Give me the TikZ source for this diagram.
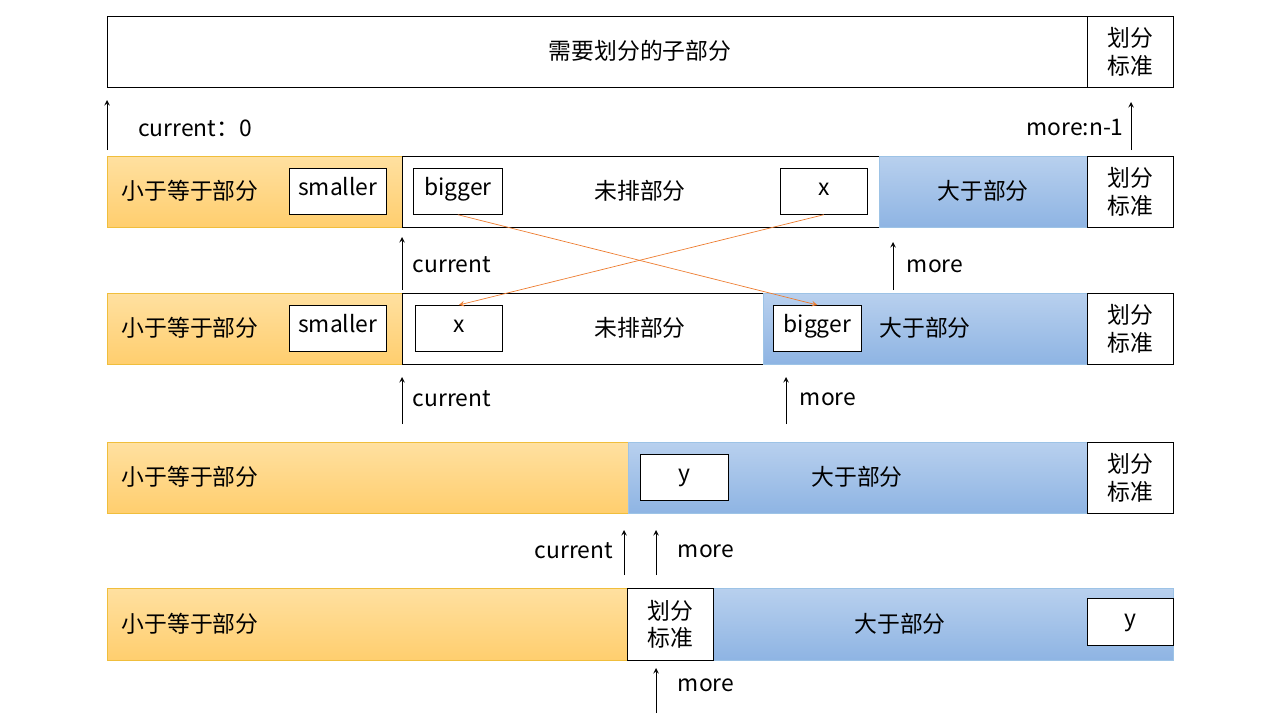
\documentclass[tikz,border=0pt]{standalone}
\usepackage{fontspec}
\setmainfont{Noto Sans CJK SC}
\usetikzlibrary{positioning}
\definecolor{leTop}{RGB}{255,224,160}
\definecolor{leBot}{RGB}{255,206,110}
\definecolor{leLine}{RGB}{240,190,60}
\definecolor{gtTop}{RGB}{184,208,238}
\definecolor{gtBot}{RGB}{142,180,227}
\definecolor{gtLine}{RGB}{157,195,230}
\definecolor{swapLine}{RGB}{237,125,49}

\begin{document}
\begin{tikzpicture}[x=0.02cm, y=-0.02cm, font=\fontsize{13}{15.5}\selectfont,
    box/.style={draw, rectangle, inner sep=0, anchor=north west, minimum height=71*0.02cm},
    small/.style={draw, rectangle, fill=white, inner sep=0, anchor=north west, minimum height=46*0.02cm, text depth=0.25em, text height=0.75em},
    le/.style={box, draw=leLine, top color=leTop, bottom color=leBot},
    gt/.style={box, draw=gtLine, top color=gtTop, bottom color=gtBot},
    std/.style={box, fill=white, align=center},
    up/.style={-stealth, thin},
    swap/.style={-stealth, draw=swapLine, thin}]
  \useasboundingbox (0,0) rectangle (1280,720);

  % row 0
  \node[box, minimum width=980*0.02cm] (all) at (107,16) {};
  \node at (640,51) {需要划分的子部分};
  \node[std, minimum width=86*0.02cm] (p0) at (1087,16) {划分\\标准};
  \coordinate (c0) at (107,150); \coordinate (m0) at (1131,150);
  \draw[up] (c0) -- ++(0,-50);
  \draw[up] (m0) -- ++(0,-48);
  \node at (195,128) {current：0};
  \node at (1075,128) {more:n-1};

  % row 1
  \node[le, minimum width=295*0.02cm] (le1) at (107,156) {};
  \node[box, fill=white, minimum width=477*0.02cm] (un1) at (402,156) {};
  \node[gt, minimum width=208*0.02cm] (gt1) at (879,156) {};
  \node[std, minimum width=86*0.02cm] (p1) at (1087,156) {划分\\标准};
  \node at (190,191) {小于等于部分};
  \node[small, minimum width=97*0.02cm] (sm1) at (289,168) {smaller};
  \node[small, minimum width=89*0.02cm] (bg1) at (413,168) {bigger};
  \node at (640,191) {未排部分};
  \node[small, minimum width=87*0.02cm] (x1) at (780,168) {x};
  \node at (983,191) {大于部分};
  \coordinate (c1) at (402,290); \coordinate (m1) at (893,290);
  \draw[up] (c1) -- ++(0,-53);
  \draw[up] (m1) -- ++(0,-48);
  \node at (452,265) {current};
  \node at (935,266) {more};

  % row 2
  \node[le, minimum width=295*0.02cm] (le2) at (107,293) {};
  \node[box, fill=white, minimum width=361*0.02cm] (un2) at (402,293) {};
  \node[gt, minimum width=324*0.02cm] (gt2) at (763,293) {};
  \node[std, minimum width=86*0.02cm] (p2) at (1087,293) {划分\\标准};
  \node at (190,328) {小于等于部分};
  \node[small, minimum width=97*0.02cm] (sm2) at (289,305) {smaller};
  \node[small, minimum width=87*0.02cm] (x2) at (415,305) {x};
  \node at (640,328) {未排部分};
  \node[small, minimum width=88*0.02cm] (bg2) at (773,305) {bigger};
  \node at (925,328) {大于部分};
  \draw[swap] (x1.south) -- (x2.north);
  \draw[swap] (bg1.south) -- (bg2.north);
  \coordinate (c2) at (402,424); \coordinate (m2) at (786,424);
  \draw[up] (c2) -- ++(0,-47);
  \draw[up] (m2) -- ++(0,-47);
  \node at (452,399) {current};
  \node at (828,399) {more};

  % row 3
  \node[le, minimum width=521*0.02cm] (le3) at (107,442) {};
  \node[gt, minimum width=459*0.02cm] (gt3) at (628,442) {};
  \node[std, minimum width=86*0.02cm] (p3) at (1087,442) {划分\\标准};
  \node at (190,477) {小于等于部分};
  \node[small, minimum width=88*0.02cm] (y3) at (640,454) {y};
  \node at (857,477) {大于部分};
  \coordinate (c3) at (624,575); \coordinate (m3) at (656,575);
  \draw[up] (c3) -- ++(0,-45);
  \draw[up] (m3) -- ++(0,-45);
  \node at (574,551) {current};
  \node at (706,551) {more};

  % row 4
  \node[le, minimum width=520*0.02cm, minimum height=72*0.02cm] (le4) at (107,588) {};
  \node[gt, minimum width=460*0.02cm, minimum height=72*0.02cm] (gt4) at (713,588) {};
  \node[std, minimum width=86*0.02cm, minimum height=72*0.02cm] (p4) at (627,588) {划分\\标准};
  \node at (190,624) {小于等于部分};
  \node at (900,624) {大于部分};
  \node[small, minimum width=86*0.02cm, minimum height=47*0.02cm] (y4) at (1087,598) {y};
  \coordinate (m4) at (656,713);
  \draw[up] (m4) -- ++(0,-45);
  \node at (706,685) {more};
\end{tikzpicture}
\end{document}
